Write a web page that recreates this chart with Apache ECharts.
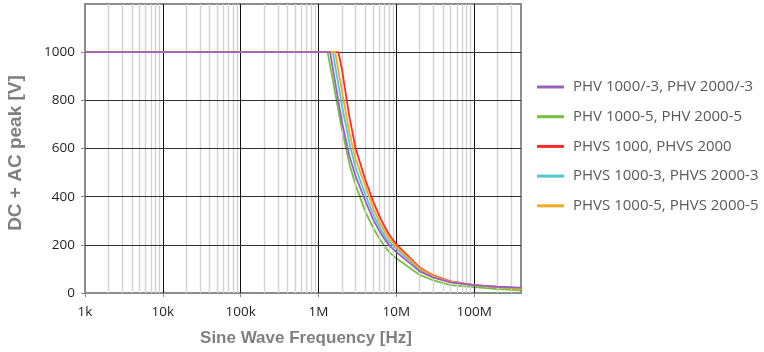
<!DOCTYPE html>
<html>
<head>
<meta charset="utf-8">
<script src="https://cdn.jsdelivr.net/npm/echarts@6/dist/echarts.min.js"></script>
<style>
  html, body { margin: 0; padding: 0; background: #fff; }
  #chart { width: 764px; height: 352px; }
</style>
</head>
<body>
<div id="chart"></div>
<script>
// frequencies (Hz) shared by every curve after its knee
const freqs = [2e6, 2.5e6, 3e6, 4e6, 5e6, 6e6, 7e6, 8e6, 1e7, 2e7, 3e7, 5e7, 1e8, 2e8, 4e8];
const startFreq = 1e3;
const flatLevel = 1000;

const names = [
  "PHV 1000/-3, PHV 2000/-3",
  "PHV 1000-5, PHV 2000-5",
  "PHVS 1000, PHVS 2000",
  "PHVS 1000-3, PHVS 2000-3",
  "PHVS 1000-5, PHVS 2000-5"
];
const colors = ["#9b5fc0", "#74c13c", "#ff2b2b", "#4fc7d4", "#f5a91f"];

// knee frequency where each curve leaves the 1000 V plateau
const kneeFreqs = [1.41e6, 1.31e6, 1.8e6, 1.53e6, 1.64e6];

// DC + AC peak [V] at freqs
const phv3   = [710, 568, 485, 382, 308, 260, 225, 200, 170, 90, 64, 44, 33, 26, 22];
const phv5   = [680, 535, 448, 338, 272, 228, 196, 172, 144, 75, 52, 33, 24, 16, 11];
const phvs   = [930, 730, 600, 470, 383, 322, 278, 244, 202, 105, 73, 48, 33, 25, 19];
const phvs3  = [780, 620, 520, 408, 330, 278, 240, 212, 184, 98, 68, 45, 32, 24, 19];
const phvs5  = [840, 665, 555, 443, 356, 298, 258, 227, 192, 101, 70, 46, 32, 24, 18];
const seriesValues = [phv3, phv5, phvs, phvs3, phvs5];
const zOrder = [8, 4, 5, 6, 7];

const xTickValues = [1e3, 1e4, 1e5, 1e6, 1e7, 1e8];
const xTickLabels = ["1k", "10k", "100k", "1M", "10M", "100M"];
const yTicks = [200, 400, 600, 800, 1000];

const xMin = 1e3, xMax = 4e8;

// light minor grid at 2..9 of every decade
const minorLines = [];
xTickValues.forEach(d => {
  for (let m = 2; m <= 9; m++) {
    if (d * m < xMax) minorLines.push({ xAxis: d * m });
  }
});
const majorV = xTickValues.slice(1).map(v => ({ xAxis: v }));
const majorH = yTicks.map(v => ({ yAxis: v }));

const series = names.map((name, i) => ({
  name: name,
  type: "line",
  showSymbol: false,
  symbol: "none",
  z: zOrder[i],
  lineStyle: { color: colors[i], width: 1.8 },
  itemStyle: { color: colors[i] },
  data: [[startFreq, flatLevel], [kneeFreqs[i], flatLevel]]
    .concat(freqs.map((f, j) => [f, seriesValues[i][j]]))
}));

const gridLine = (data, color, width, z) => ({
  type: "line",
  data: [],
  z: z,
  silent: true,
  markLine: {
    silent: true,
    symbol: "none",
    label: { show: false },
    animation: false,
    data: data,
    lineStyle: { color: color, width: width, type: "solid" }
  }
});
series.push(gridLine(minorLines, "#d2d2d2", 1.4, 1));
series.push(gridLine(majorV, "#111", 1, 2));
series.push(gridLine(majorH, "#333", 1.2, 2));

const option = {
  animation: false,
  grid: {
    left: 85,
    right: 243,
    top: 4,
    bottom: 59,
    show: true,
    borderColor: "#8c8c8c",
    borderWidth: 2
  },
  legend: {
    data: names,
    orient: "vertical",
    left: 537,
    top: 79,
    padding: 0,
    icon: "rect",
    itemWidth: 27,
    itemHeight: 3,
    itemGap: 13.7,
    textStyle: {
      fontFamily: "Open Sans",
      fontSize: 15,
      lineHeight: 16,
      color: "#595959",
      padding: [0, 0, 0, 4]
    }
  },
  xAxis: {
    type: "log",
    logBase: 10,
    min: xMin,
    max: xMax,
    splitLine: { show: false },
    axisLine: { lineStyle: { color: "#8c8c8c", width: 2 } },
    axisTick: { show: true, length: 4, lineStyle: { color: "#8c8c8c" } },
    axisLabel: {
      margin: 12,
      fontFamily: "Open Sans",
      fontSize: 13.5,
      color: "#1f1f1f",
      showMaxLabel: false,
      formatter: v => {
        const idx = xTickValues.findIndex(t => Math.abs(t - v) / t < 1e-6);
        return idx >= 0 ? xTickLabels[idx] : "";
      }
    }
  },
  yAxis: {
    type: "value",
    min: 0,
    max: 1200,
    interval: 200,
    splitLine: { show: false },
    axisLine: { show: true, lineStyle: { color: "#8c8c8c", width: 2 } },
    axisTick: { show: true, length: 4, lineStyle: { color: "#8c8c8c" } },
    axisLabel: {
      margin: 10,
      fontFamily: "Open Sans",
      fontSize: 13.5,
      color: "#1f1f1f",
      showMaxLabel: false,
      formatter: v => String(v)
    }
  },
  graphic: [
    {
      type: "text",
      x: 16,
      y: 153,
      rotation: Math.PI / 2,
      style: {
        text: "DC + AC peak [V]",
        fontFamily: "Liberation Sans",
        fontWeight: "bold",
        fontSize: 19,
        fill: "#7f7f7f",
        align: "center",
        verticalAlign: "middle"
      }
    },
    {
      type: "text",
      x: 306,
      y: 338,
      style: {
        text: "Sine Wave Frequency [Hz]",
        fontFamily: "Liberation Sans",
        fontWeight: "bold",
        fontSize: 17,
        fill: "#7f7f7f",
        align: "center",
        verticalAlign: "middle"
      }
    }
  ],
  series: series
};

const myChart = echarts.init(document.getElementById("chart"));
myChart.setOption(option);
</script>
</body>
</html>
